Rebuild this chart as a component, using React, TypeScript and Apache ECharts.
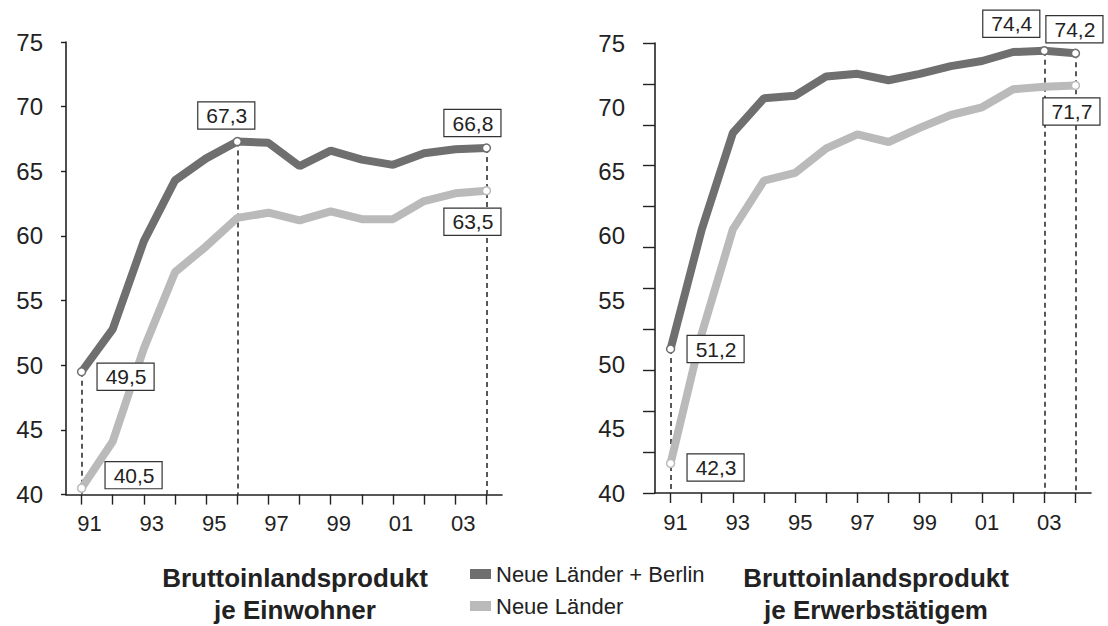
import React, { useEffect, useRef } from "react";
import * as echarts from "echarts";

// Years 1991–2004 (two-digit labels)
const years = ["91", "92", "93", "94", "95", "96", "97", "98", "99", "00", "01", "02", "03", "04"];
const yTicks = [40, 45, 50, 55, 60, 65, 70, 75];

// BIP je Einwohner (Westdeutschland = 100)
const einwohnerBerlin = [49.5, 52.8, 59.6, 64.3, 66.0, 67.3, 67.2, 65.4, 66.6, 65.9, 65.5, 66.4, 66.7, 66.8];
const einwohnerNeue = [40.5, 44.1, 51.3, 57.2, 59.2, 61.4, 61.8, 61.2, 61.9, 61.3, 61.3, 62.7, 63.3, 63.5];

// BIP je Erwerbstätigem
const erwerbBerlin = [51.2, 60.5, 68.0, 70.7, 70.9, 72.4, 72.6, 72.1, 72.6, 73.2, 73.6, 74.3, 74.4, 74.2];
const erwerbNeue = [42.3, 52.4, 60.5, 64.3, 64.9, 66.8, 67.9, 67.3, 68.4, 69.4, 70.0, 71.4, 71.6, 71.7];

const seriesNames = ["Neue Länder + Berlin", "Neue Länder"];
const titles = ["Bruttoinlandsprodukt\nje Einwohner", "Bruttoinlandsprodukt\nje Erwerbstätigem"];

const DARK = "#6f6f6f";
const LIGHT = "#bababa";
const INK = "#222";
const FONT = "'Liberation Sans', Arial, Helvetica, sans-serif";

const fmt = (p: any) => Number(p.value).toFixed(1).replace(".", ",");

const boxLabel = (offset: number[]) => ({
  show: true,
  position: "inside",
  offset,
  formatter: fmt,
  fontSize: 21,
  fontFamily: FONT,
  color: INK,
  backgroundColor: "#fff",
  borderColor: "#333",
  borderWidth: 1.2,
  padding: [3, 7, 2, 8],
});

function buildData(values: number[], labels: Record<number, number[]>, color: string) {
  return values.map((v, i) =>
    labels[i]
      ? {
          value: v,
          symbol: "circle",
          symbolSize: 8,
          itemStyle: { color: "#fff", borderColor: color, borderWidth: 1.5 },
          label: boxLabel(labels[i]),
        }
      : { value: v, symbol: "none" }
  );
}

function dropLines(values: number[], idx: number[]) {
  return idx.map((i) => [
    { coord: [years[i], values[i]] },
    { coord: [years[i], yTicks[0]] },
  ]);
}

export default function App() {
  const ref = useRef<HTMLDivElement>(null);

  useEffect(() => {
    if (!ref.current) return;
    const chart = echarts.init(ref.current, null, { renderer: "svg" });

    const xAxisBase = (gridIndex: number, shift: number) => ({
      type: "category",
      gridIndex,
      data: years,
      boundaryGap: true,
      axisLine: { show: true, lineStyle: { color: INK, width: 1.6 } },
      axisTick: { show: true, alignWithLabel: true, interval: 0, length: 10, lineStyle: { color: INK, width: 1.4 } },
      axisLabel: {
        interval: 1,
        fontSize: 22,
        fontFamily: FONT,
        color: INK,
        margin: 18,
        padding: [0, 0, 0, shift],
      },
      splitLine: { show: false },
    });

    const markLineStyle = {
      silent: true,
      z: 1,
      symbol: ["none", "none"],
      label: { show: false },
      lineStyle: { color: INK, type: [5, 4], width: 1.5 },
      emphasis: { disabled: true },
    };

    const lineSeries = (
      name: string,
      values: number[],
      color: string,
      axisIdx: number,
      labels: Record<number, number[]>,
      drops: number[] | null
    ) => ({
      type: "line",
      name,
      xAxisIndex: axisIdx,
      yAxisIndex: axisIdx,
      data: buildData(values, labels, color),
      symbol: "circle",
      symbolSize: 8,
      showAllSymbol: true,
      itemStyle: { color },
      lineStyle: { color, width: 8 },
      emphasis: { disabled: true },
      z: color === DARK ? 4 : 3,
      markLine: drops ? { ...markLineStyle, data: dropLines(values, drops) } : undefined,
    });

    chart.setOption({
      animation: false,
      backgroundColor: "#fff",
      textStyle: { fontFamily: FONT },
      grid: [
        { left: 66, top: 42, width: 436, height: 452.6 },
        { left: 655, top: 43, width: 436, height: 450 },
      ],
      xAxis: [xAxisBase(0, 16), xAxisBase(1, 10)],
      yAxis: [
        {
          type: "value",
          gridIndex: 0,
          position: "left",
          min: 40,
          max: 75,
          interval: 5,
          axisLine: { show: true, lineStyle: { color: INK, width: 1.6 } },
          axisTick: { show: true, length: 5, lineStyle: { color: INK, width: 1.4 } },
          axisLabel: { fontSize: 24, fontFamily: FONT, color: INK, margin: 23 },
          splitLine: { show: false },
        },
        {
          type: "value",
          gridIndex: 1,
          position: "left",
          min: 40,
          max: 75,
          interval: 5,
          axisLine: { show: true, lineStyle: { color: INK, width: 1.6 } },
          axisTick: { show: false },
          axisLabel: { fontSize: 24, fontFamily: FONT, color: INK, margin: 30 },
          splitLine: { show: false },
        },
        {
          type: "value",
          gridIndex: 1,
          position: "left",
          offset: 0,
          min: 0,
          max: 11,
          interval: 1,
          axisLine: { show: false },
          axisTick: { show: true, length: 12, lineStyle: { color: INK, width: 1.4 } },
          axisLabel: { show: false },
          splitLine: { show: false },
        },
      ],
      legend: {
        data: seriesNames,
        orient: "vertical",
        left: 465,
        top: 558,
        icon: "rect",
        itemWidth: 21,
        itemHeight: 10,
        itemGap: 10,
        selectedMode: false,
        textStyle: { fontSize: 22, fontFamily: FONT, color: INK },
      },
      graphic: [
        {
          type: "text",
          x: 295,
          y: 562,
          style: {
            text: titles[0],
            align: "center",
            textAlign: "center",
            verticalAlign: "top",
            textVerticalAlign: "top",
            font: `bold 26px ${FONT}`,
            lineHeight: 32,
            fill: INK,
          },
        },
        {
          type: "text",
          x: 876,
          y: 562,
          style: {
            text: titles[1],
            align: "center",
            textAlign: "center",
            verticalAlign: "top",
            textVerticalAlign: "top",
            font: `bold 26px ${FONT}`,
            lineHeight: 32,
            fill: INK,
          },
        },
      ],
      series: [
        lineSeries(seriesNames[1], einwohnerNeue, LIGHT, 0, { 0: [52, -13], 13: [-14, 31] }, null),
        lineSeries(seriesNames[0], einwohnerBerlin, DARK, 0, { 0: [44, 5], 5: [-11, -26], 13: [-14, -25] }, [0, 5, 13]),
        lineSeries(seriesNames[1], erwerbNeue, LIGHT, 1, { 0: [45, 4], 13: [-4, 26] }, null),
        lineSeries(seriesNames[0], erwerbBerlin, DARK, 1, { 0: [45, 0], 12: [-33, -27], 13: [-1, -24] }, [0, 12, 13]),
      ],
    });

    return () => chart.dispose();
  }, []);

  return (
    <div
      ref={ref}
      style={{ position: "fixed", left: 0, top: 0, width: 1108, height: 626, background: "#fff" }}
    />
  );
}
